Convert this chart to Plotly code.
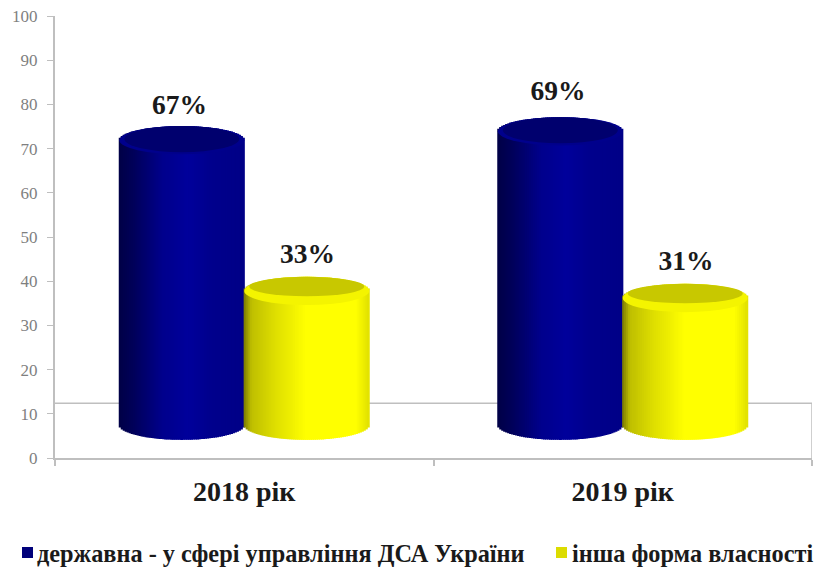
import math
import plotly.graph_objects as go

categories = ["2018 рік", "2019 рік"]
series_names = ["державна - у сфері управління ДСА України", "інша форма власності"]
state_labels = ["67%", "69%"]
other_labels = ["33%", "31%"]
# bar tops as they read on the drawn value axis (the 3D floor lifts them)
state_tops = [71.9, 73.9]
other_tops = [37.8, 36.2]
# heights on the value axis at which the percent labels sit
state_label_pos = [79.4, 82.5]
other_label_pos = [45.7, 44.1]
floor_level = 7.5
wall_level = 12.4
y_ticks = [0, 10, 20, 30, 40, 50, 60, 70, 80, 90, 100]

SERIF = "Liberation Serif"
BLUE_STOPS = [(0, (0, 0, 70)), (0.12, (0, 0, 90)), (0.35, (0, 0, 140)), (0.55, (0, 0, 155)),
              (0.75, (0, 0, 140)), (1, (0, 0, 135))]
YELLOW_STOPS = [(0, (120, 120, 0)), (0.06, (190, 190, 0)), (0.25, (222, 222, 0)), (0.5, (255, 255, 0)),
                (0.9, (255, 255, 0)), (1, (225, 225, 0))]
BLUE_TOP = "#00006e"
BLUE_RIM = "#00008c"
YELLOW_TOP = "#c8c800"
YELLOW_RIM = "#f4f400"
AXIS = "#bfbfbf"
TICK_TXT = "#7f7f7f"
TXT = "#1a1a1a"
BAR_W = 0.33
N = 63
CAP = 3.2
BOT = 3.4


def shade(stops, t):
    for (a, ca), (b, cb) in zip(stops, stops[1:]):
        if t <= b:
            f = (t - a) / (b - a)
            c = [round(x + (y - x) * f) for x, y in zip(ca, cb)]
            return f"rgb({c[0]},{c[1]},{c[2]})"
    return f"rgb{stops[-1][1]}"


def cylinder(centers, tops, stops):
    xs, hs, bases, cols = [], [], [], []
    for c, top in zip(centers, tops):
        for i in range(N):
            u = (i + 0.5) / N * 2 - 1
            arc = math.sqrt(1 - u * u)
            bottom = floor_level - BOT * arc
            xs.append(c + u * BAR_W / 2)
            bases.append(bottom)
            hs.append(top + CAP * arc - bottom)
            cols.append(shade(stops, (u + 1) / 2))
    return go.Bar(x=xs, y=hs, base=bases, width=BAR_W / N * 1.6,
                  marker=dict(color=cols, line=dict(width=0)),
                  showlegend=False, hoverinfo="skip")


groups = [0.5, 1.5]
state_x = [g - BAR_W / 2 for g in groups]
other_x = [g + BAR_W / 2 for g in groups]

fig = go.Figure()
fig.add_trace(cylinder(state_x, state_tops, BLUE_STOPS))
fig.add_trace(cylinder(other_x, other_tops, YELLOW_STOPS))

# top faces: a bright rim with the darker face on it
for xs, tops, rim, col, low in ((state_x, state_tops, BLUE_RIM, BLUE_TOP, 2.7),
                                (other_x, other_tops, YELLOW_RIM, YELLOW_TOP, 1.2)):
    for c, top in zip(xs, tops):
        fig.add_shape(type="circle", xref="x", yref="y",
                      x0=c - BAR_W * 0.5, x1=c + BAR_W * 0.5,
                      y0=top - CAP, y1=top + CAP,
                      fillcolor=rim, line=dict(width=0), layer="above")
        fig.add_shape(type="circle", xref="x", yref="y",
                      x0=c - BAR_W * 0.46, x1=c + BAR_W * 0.46,
                      y0=top - low, y1=top + CAP,
                      fillcolor=col, line=dict(width=0), layer="above")

# back wall / floor outline
fig.add_shape(type="line", xref="x", yref="y", x0=0, x1=2, y0=wall_level, y1=wall_level,
              line=dict(color=AXIS, width=1.5), layer="below")
fig.add_shape(type="line", xref="x", yref="y", x0=2, x1=2, y0=0, y1=wall_level,
              line=dict(color=AXIS, width=1.5), layer="below")

# value labels
for xs, pos, labs, nudge in ((state_x, state_label_pos, state_labels, -0.006),
                             (other_x, other_label_pos, other_labels, 0.002)):
    fig.add_trace(go.Scatter(x=[x + nudge for x in xs], y=pos, text=labs,
                             mode="text", textposition="middle center",
                             textfont=dict(family=SERIF, size=27.5, color=TXT, weight="bold"),
                             showlegend=False, hoverinfo="skip"))

# key row under the chart
swatches = ["#00007a", "#dcdc00"]
swatch_px = [22, 556]
text_px = [37, 572]
for name, col, px, tx in zip(series_names, swatches, swatch_px, text_px):
    fig.add_shape(type="rect", xref="paper", yref="paper",
                  x0=(px - 55) / 757, x1=(px + 11 - 55) / 757,
                  y0=(458 - 558) / 442, y1=(458 - 547) / 442,
                  fillcolor=col, line=dict(width=0), layer="above")
    fig.add_annotation(text=name, xref="paper", yref="paper", showarrow=False,
                       x=(tx - 55) / 757, xanchor="left", xshift=-2,
                       y=(458 - 553) / 442, yanchor="middle",
                       font=dict(family=SERIF, size=24.3, color=TXT, weight="bold"))

fig.update_layout(
    width=817, height=568, autosize=False,
    margin=dict(l=55, r=5, t=16, b=110, autoexpand=False),
    paper_bgcolor="white", plot_bgcolor="white",
    barmode="overlay",
    showlegend=False,
    xaxis=dict(range=[0, 2], tickmode="array", tickvals=groups, ticktext=categories, automargin=False,
               ticklen=0, showgrid=False, zeroline=False, showline=True, linecolor=AXIS, linewidth=2,
               tickfont=dict(family=SERIF, size=28, color=TXT, weight="bold"),
               minor=dict(tickmode="array", tickvals=[0, 1, 2], ticklen=6, tickcolor=AXIS,
                          tickwidth=1.5, ticks="outside", showgrid=False),
               ticklabelstandoff=7),
    yaxis=dict(range=[0, 100], tickmode="array", tickvals=y_ticks, ticks="outside", ticklen=6,
               tickcolor=AXIS, tickwidth=1, showgrid=False, zeroline=False, automargin=False,
               showline=True, linecolor=AXIS, linewidth=2, ticklabelstandoff=6,
               ticklabeloverflow="allow",
               tickfont=dict(family=SERIF, size=17, color=TICK_TXT)),
)
fig.write_html("out.html", default_width="817px", default_height="568px",
               config={"displayModeBar": False},
               post_script="document.body.style.margin='0';document.documentElement.style.overflow='hidden';")
